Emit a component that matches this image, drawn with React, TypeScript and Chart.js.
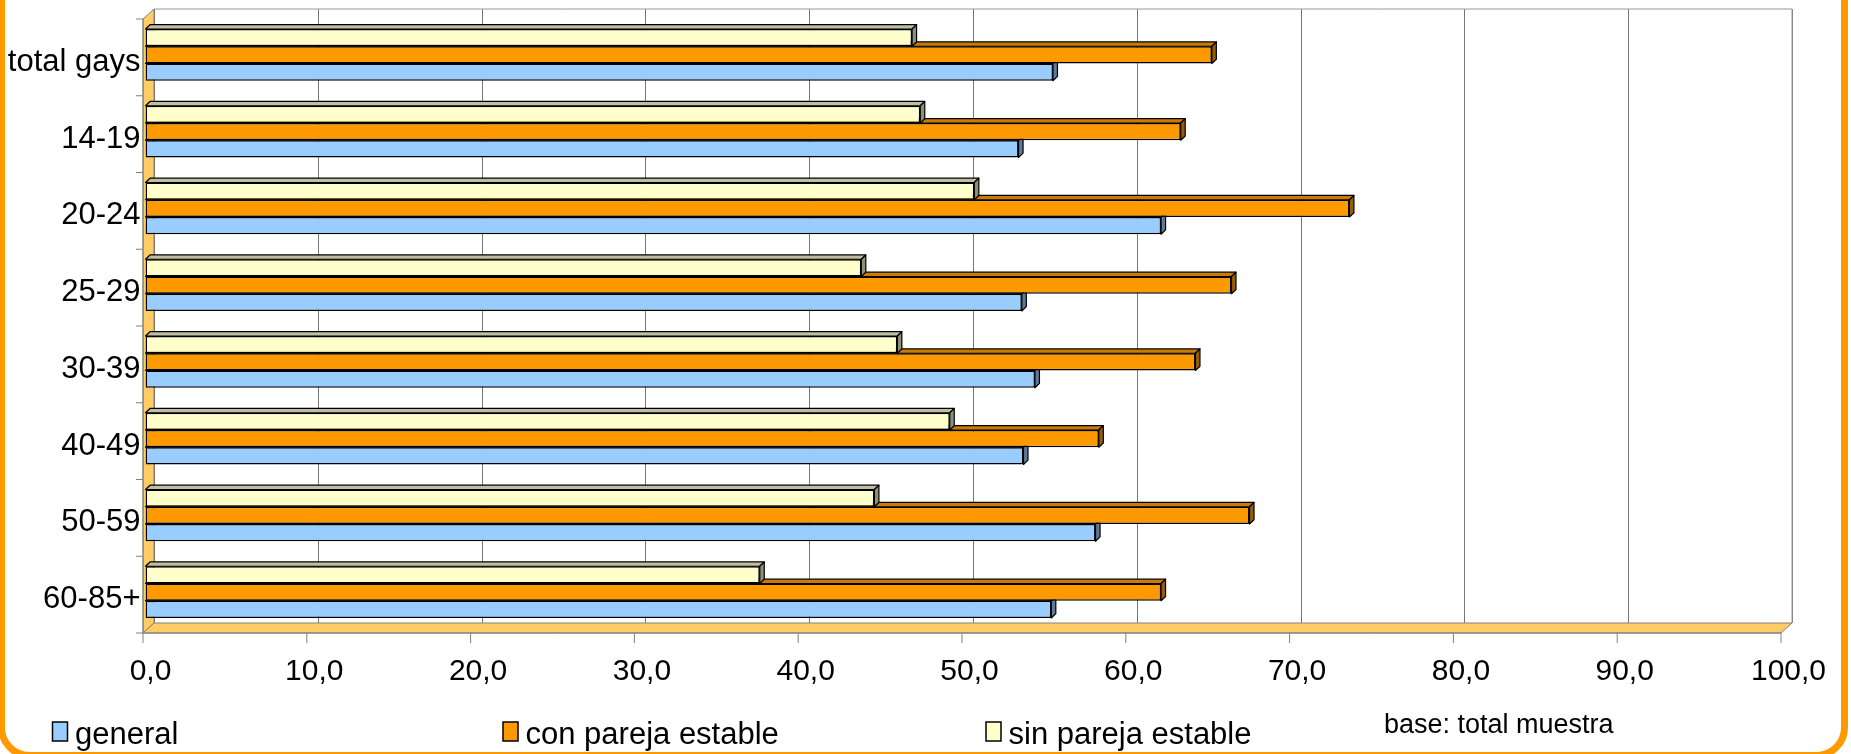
import React, { useEffect, useRef } from 'react';
import { Chart, registerables } from 'chart.js';

Chart.register(...registerables);

// ---- data ----
const categories = ['total gays', '14-19', '20-24', '25-29', '30-39', '40-49', '50-59', '60-85+'];
const general = [55.4, 53.3, 62.0, 53.5, 54.3, 53.6, 58.0, 55.3];
const conPareja = [65.1, 63.2, 73.5, 66.3, 64.1, 58.2, 67.4, 62.0];
const sinPareja = [46.8, 47.3, 50.6, 43.7, 45.9, 49.1, 44.5, 37.5];
const seriesLabels = ['general', 'con pareja estable', 'sin pareja estable'];
const xTickLabels = ['0,0', '10,0', '20,0', '30,0', '40,0', '50,0', '60,0', '70,0', '80,0', '90,0', '100,0'];
const noteText = 'base: total muestra';

// ---- styles ----
const FONT = "'Liberation Sans', Arial, sans-serif";
const COL_GENERAL = '#99CCFF';
const COL_CON = '#FF9900';
const COL_SIN = '#FFFFCC';
const FACE: Record<string, { top: string; side: string }> = {
  [COL_GENERAL]: { top: '#7AA3CC', side: '#5C7A99' },
  [COL_CON]: { top: '#CC7A00', side: '#995C00' },
  [COL_SIN]: { top: '#BFBFA0', side: '#8F8F78' },
};

const FX = -2.5, FY = 2.5; // front plane offset from bar plane
const BX = 8.5, BY = -7.5; // back plane offset from bar plane
const DX = 4.5, DY = 4.3; // bar depth

const excel3d = {
  id: 'excel3d',
  beforeDatasetsDraw(chart: any) {
    const { ctx, chartArea } = chart;
    const x = chart.scales.x;
    const y = chart.scales.y;
    const x0 = x.getPixelForValue(0);
    const x100 = x.getPixelForValue(100);
    const top = chartArea.top;
    const bottom = chartArea.bottom;
    ctx.save();
    ctx.lineWidth = 1;
    // back wall
    ctx.fillStyle = '#FFFFFF';
    ctx.fillRect(x0 + BX, top + BY, x100 - x0, bottom - top);
    ctx.strokeStyle = '#777777';
    for (const t of x.ticks) {
      const px = Math.round(x.getPixelForValue(t.value) + BX) + 0.5;
      ctx.beginPath();
      ctx.moveTo(px, top + BY);
      ctx.lineTo(px, bottom + BY);
      ctx.stroke();
    }
    ctx.strokeStyle = '#999999';
    ctx.beginPath();
    ctx.moveTo(x0 + BX, top + BY);
    ctx.lineTo(x100 + BX, top + BY);
    ctx.lineTo(x100 + BX, bottom + BY);
    ctx.stroke();
    // left wall
    ctx.fillStyle = '#FFCC66';
    ctx.strokeStyle = '#808080';
    ctx.beginPath();
    ctx.moveTo(x0 + FX, top + FY);
    ctx.lineTo(x0 + BX, top + BY);
    ctx.lineTo(x0 + BX, bottom + BY);
    ctx.lineTo(x0 + FX, bottom + FY);
    ctx.closePath();
    ctx.fill();
    ctx.stroke();
    // floor
    ctx.beginPath();
    ctx.moveTo(x0 + FX, bottom + FY);
    ctx.lineTo(x0 + BX, bottom + BY);
    ctx.lineTo(x100 + BX, bottom + BY);
    ctx.lineTo(x100 + FX, bottom + FY);
    ctx.closePath();
    ctx.fill();
    ctx.stroke();
    // front axes
    ctx.strokeStyle = '#808080';
    ctx.beginPath();
    ctx.moveTo(x0 + FX, top + FY);
    ctx.lineTo(x0 + FX, bottom + FY);
    ctx.lineTo(x100 + FX, bottom + FY);
    ctx.stroke();
    // y ticks at category boundaries
    const band = y.getPixelForValue(1) - y.getPixelForValue(0);
    for (let i = 0; i <= categories.length; i++) {
      const py = y.getPixelForValue(0) - band / 2 + i * band + FY;
      ctx.beginPath();
      ctx.moveTo(x0 + FX - 7, py);
      ctx.lineTo(x0 + FX, py);
      ctx.stroke();
    }
    // x ticks
    for (const t of x.ticks) {
      const px = x.getPixelForValue(t.value) + FX;
      ctx.beginPath();
      ctx.moveTo(px, bottom + FY);
      ctx.lineTo(px, bottom + FY + 10);
      ctx.stroke();
    }
    // bar 3D faces, from the lowest bar in each group to the highest
    ctx.strokeStyle = '#000000';
    ctx.lineWidth = 1.2;
    ctx.lineJoin = 'round';
    for (let d = chart.data.datasets.length - 1; d >= 0; d--) {
      const meta = chart.getDatasetMeta(d);
      const color = chart.data.datasets[d].backgroundColor;
      const faces = FACE[color];
      for (const el of meta.data) {
        const { x: end, y: cy, base, height } = el.getProps(['x', 'y', 'base', 'height'], true);
        const t = cy - height / 2;
        const b = cy + height / 2;
        ctx.fillStyle = faces.top;
        ctx.beginPath();
        ctx.moveTo(base, t);
        ctx.lineTo(end, t);
        ctx.lineTo(end + DX, t - DY);
        ctx.lineTo(base + DX, t - DY);
        ctx.closePath();
        ctx.fill();
        ctx.stroke();
        ctx.fillStyle = faces.side;
        ctx.beginPath();
        ctx.moveTo(end, t);
        ctx.lineTo(end, b);
        ctx.lineTo(end + DX, b - DY);
        ctx.lineTo(end + DX, t - DY);
        ctx.closePath();
        ctx.fill();
        ctx.stroke();
      }
    }
    ctx.restore();
  },
  afterDraw(chart: any) {
    const { ctx } = chart;
    ctx.save();
    // legend
    const legendColors = [COL_GENERAL, COL_CON, COL_SIN];
    const legendX = [52.5, 503, 986];
    ctx.font = `31px ${FONT}`;
    ctx.textBaseline = 'alphabetic';
    ctx.textAlign = 'left';
    seriesLabels.forEach((lab, i) => {
      ctx.fillStyle = legendColors[i];
      ctx.fillRect(legendX[i], 722, 15, 19);
      ctx.strokeStyle = '#000';
      ctx.lineWidth = 1.5;
      ctx.strokeRect(legendX[i], 722, 15, 19);
      ctx.fillStyle = '#000';
      ctx.fillText(lab, legendX[i] + 22.5, 744);
    });
    // note
    ctx.font = `27px ${FONT}`;
    ctx.fillText(noteText, 1384, 733);
    // orange frame
    ctx.strokeStyle = '#FF9900';
    ctx.lineWidth = 7;
    ctx.beginPath();
    ctx.roundRect(1.5, -60, 1843, 815.5, 28);
    ctx.stroke();
    ctx.restore();
  },
};

export default function App() {
  const ref = useRef<HTMLCanvasElement>(null);
  useEffect(() => {
    document.body.style.margin = '0';
    const tickFont = { family: FONT, size: 30 };
    const catFont = { family: FONT, size: 31 };
    const chart = new Chart(ref.current as HTMLCanvasElement, {
      type: 'bar',
      data: {
        labels: categories,
        datasets: [
          { label: seriesLabels[2], data: sinPareja, backgroundColor: COL_SIN, borderColor: '#000', borderWidth: 1.5, borderSkipped: false },
          { label: seriesLabels[1], data: conPareja, backgroundColor: COL_CON, borderColor: '#000', borderWidth: 1.5, borderSkipped: false },
          { label: seriesLabels[0], data: general, backgroundColor: COL_GENERAL, borderColor: '#000', borderWidth: 1.5, borderSkipped: false },
        ],
      },
      options: {
        indexAxis: 'y',
        animation: false,
        responsive: false,
        devicePixelRatio: 1,
        layout: { padding: { top: 16.5, right: 67.5, bottom: 0, left: 0 } },
        datasets: { bar: { categoryPercentage: 0.674, barPercentage: 1 } },
        plugins: { legend: { display: false }, tooltip: { enabled: false } },
        scales: {
          x: {
            type: 'linear',
            min: 0,
            max: 100,
            position: 'bottom',
            grid: { display: false, drawTicks: false },
            border: { display: false },
            ticks: {
              stepSize: 10,
              padding: 23.5,
              labelOffset: 5,
              color: '#000',
              font: tickFont,
              maxRotation: 0,
              autoSkip: false,
              callback: (_v: any, i: number) => xTickLabels[i],
            },
            afterFit: (s: any) => { s.height = 123.5; s.paddingLeft = 0; s.paddingRight = 0; },
          },
          y: {
            type: 'category',
            grid: { display: false, drawTicks: false },
            border: { display: false },
            ticks: { padding: 5, labelOffset: 7.5, color: '#000', font: catFont, autoSkip: false },
            afterFit: (s: any) => { s.width = 145.5; s.paddingTop = 0; s.paddingBottom = 0; },
          },
        },
      },
      plugins: [excel3d],
    } as any);
    return () => chart.destroy();
  }, []);
  return (
    <div style={{ position: 'absolute', left: 0, top: 0, width: 1851, height: 754, background: '#fff' }}>
      <canvas ref={ref} width={1851} height={754} style={{ width: 1851, height: 754, display: 'block' }} />
    </div>
  );
}
